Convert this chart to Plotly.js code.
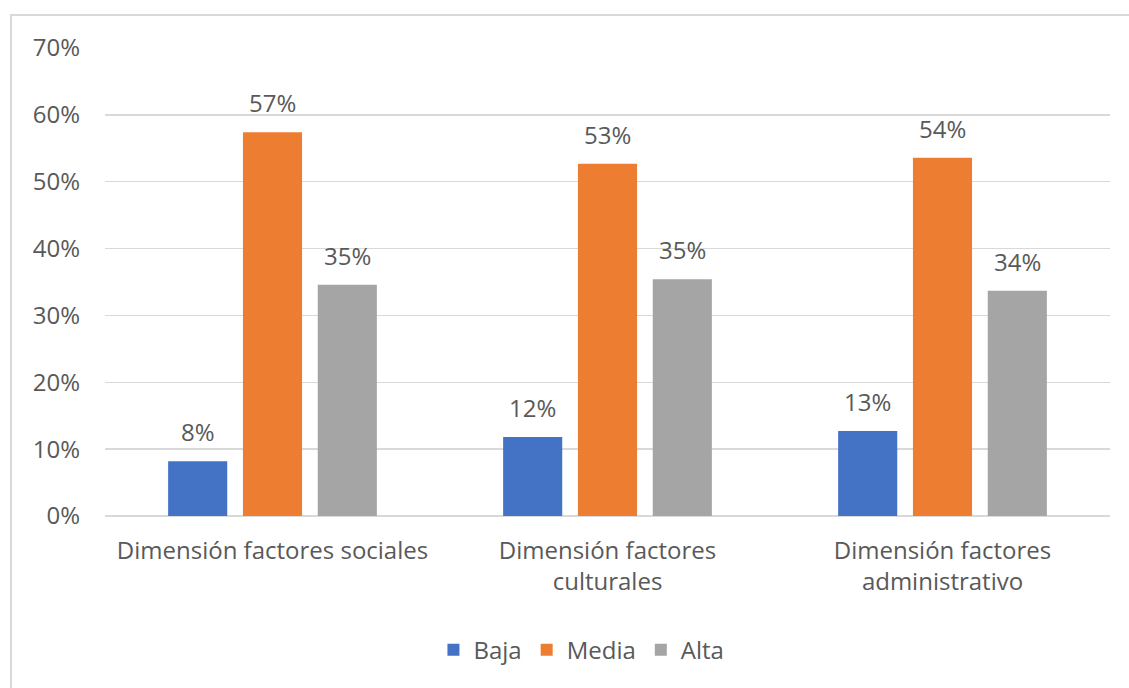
<!DOCTYPE html>
<html>
<head>
<meta charset="utf-8">
<script src="https://cdn.plot.ly/plotly-3.0.1.min.js"></script>
<style>
  html, body { margin: 0; padding: 0; background: #ffffff; }
  #wrap { position: relative; width: 1129px; height: 688px; }
  #frame { position: absolute; left: 10px; top: 14px; right: 0; bottom: 0;
           border-left: 2px solid #D9D9D9; border-top: 2px solid #D9D9D9; pointer-events: none; }
  #chart { position: absolute; left: 0; top: 0; width: 1129px; height: 688px; }
</style>
</head>
<body>
<div id="wrap">
  <div id="chart"></div>
  <div id="frame"></div>
</div>
<script>
// Categories and series values (shares, 0-1)
const categories = [
  "Dimensión factores sociales",
  "Dimensión factores<br>culturales",
  "Dimensión factores<br>administrativo"
];
const baja  = [0.082, 0.118, 0.127];
const media = [0.574, 0.527, 0.536];
const alta  = [0.346, 0.354, 0.337];
const seriesNames = ["Baja", "Media", "Alta"];
const yTickVals = [0, 0.1, 0.2, 0.3, 0.4, 0.5, 0.6, 0.7];

const FONT = "'Open Sans', 'Noto Sans', sans-serif";
const TEXT = "#595959";
const SIZE = 24;
const colors = ["#4472C4", "#ED7D31", "#A5A5A5"];
const BARGAP = 0.33;

const seriesValues = [baja, media, alta];

const traces = seriesValues.map((vals, i) => ({
  type: "bar",
  name: seriesNames[i],
  x: categories,
  y: vals,
  marker: { color: colors[i] },
  hoverinfo: "skip"
}));

// Value labels above each bar, placed at the bar's group offset
const slot = (1 - BARGAP) / seriesValues.length;
const annotations = [];
seriesValues.forEach((vals, i) => {
  vals.forEach((v, j) => {
    annotations.push({
      x: j + (i - (seriesValues.length - 1) / 2) * slot,
      y: v,
      xref: "x",
      yref: "y",
      text: Math.round(v * 100) + "%",
      showarrow: false,
      xanchor: "center",
      yanchor: "bottom",
      yshift: 11,
      font: { family: FONT, size: SIZE, color: TEXT }
    });
  });
});

const layout = {
  width: 1129,
  height: 688,
  margin: { l: 105, r: 19, t: 48, b: 172 },
  paper_bgcolor: "rgba(0,0,0,0)",
  plot_bgcolor: "#ffffff",
  font: { family: FONT, color: TEXT, size: SIZE },
  barmode: "group",
  bargap: BARGAP,
  bargroupgap: 0.21,
  annotations: annotations,
  xaxis: {
    type: "category",
    showgrid: false,
    showline: false,
    zeroline: false,
    ticks: "",
    tickfont: { family: FONT, size: SIZE, color: TEXT },
    ticklabelstandoff: 18,
    fixedrange: true
  },
  yaxis: {
    range: [0, 0.7],
    tickvals: yTickVals,
    tickformat: ".0%",
    showgrid: true,
    gridcolor: "#D9D9D9",
    gridwidth: 1.5,
    zeroline: true,
    zerolinecolor: "#D9D9D9",
    zerolinewidth: 1.5,
    showline: false,
    ticks: "",
    tickfont: { family: FONT, size: SIZE, color: TEXT },
    ticklabelstandoff: 24,
    fixedrange: true
  },
  showlegend: true,
  legend: {
    orientation: "h",
    xref: "container",
    yref: "container",
    x: 0.515,
    xanchor: "center",
    y: 0.055,
    yanchor: "middle",
    font: { family: FONT, size: SIZE, color: TEXT },
    itemwidth: 30,
    traceorder: "normal"
  }
};

Plotly.newPlot("chart", traces, layout, { displayModeBar: false, staticPlot: true });
</script>
</body>
</html>
